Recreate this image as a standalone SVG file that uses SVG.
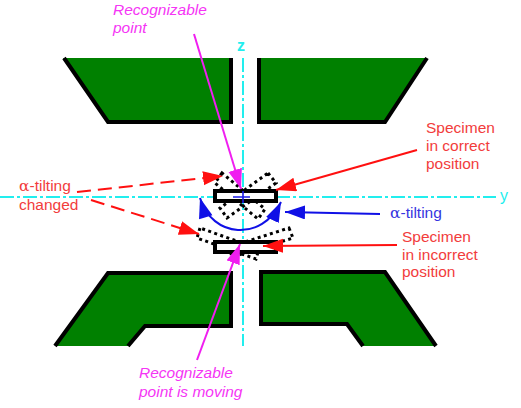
<svg xmlns="http://www.w3.org/2000/svg" width="521" height="408" viewBox="0 0 521 408">
<style>
text{font-family:"Liberation Sans",Arial,sans-serif;font-size:15.5px}
.m{fill:#f535f5;font-style:italic}
.r{fill:#f23c3c}
.b{fill:#3535e0}
.c{fill:#22eeee;font-weight:bold}
.pole{fill:#008000;stroke:none}
.edge{fill:none;stroke:#000;stroke-width:4;stroke-linejoin:miter}
.axis{fill:none;stroke:#22eeee;stroke-width:2;stroke-dasharray:14 3 3 3}
.dot{fill:none;stroke:#000;stroke-width:3;stroke-dasharray:3 3.4}
.spec{fill:#fff;stroke:#000;stroke-width:4}
</style>
<defs>
<marker id="am" markerUnits="userSpaceOnUse" markerWidth="22" markerHeight="16" refX="20" refY="7" orient="auto"><path d="M0 0L20 7L0 14Z" fill="#f01ef0"/></marker>
<marker id="ar" markerUnits="userSpaceOnUse" markerWidth="22" markerHeight="16" refX="20" refY="7" orient="auto"><path d="M0 0L20 7L0 14Z" fill="#ff1010"/></marker>
<marker id="ab" markerUnits="userSpaceOnUse" markerWidth="22" markerHeight="16" refX="20" refY="7" orient="auto"><path d="M0 0L20 7L0 14Z" fill="#1010e6"/></marker>
<marker id="abs" markerUnits="userSpaceOnUse" markerWidth="22" markerHeight="16" refX="0" refY="7" orient="auto"><path d="M20 0L0 7L20 14Z" fill="#1010e6"/></marker>
</defs>
<rect width="521" height="408" fill="#fff"/>
<g id="pole-top-left"><path class="pole" d="M63 58H231V122H108Z"/><path class="edge" d="M64 58L108 122H231V58"/></g>
<g id="pole-top-right"><path class="pole" d="M259 58H427L385 122H259Z"/><path class="edge" d="M427 58L385 122H259V58"/></g>
<g id="pole-bottom-left"><path class="pole" d="M55 346L108 273H231V326H145L128 346Z"/><path class="edge" d="M55 346L108 273H231V326H145L128 346"/></g>
<g id="pole-bottom-right"><path class="pole" d="M261 272H385L436 346H363L347 324H261Z"/><path class="edge" d="M436 346L385 272H261V324H347L363 346"/></g>
<g id="axes">
<path class="axis" d="M243 58V346"/>
<path class="axis" d="M0 197H496"/>
<text class="c" x="237" y="51" style="font-size:16px">z</text>
<text x="500" y="201" style="fill:#22eeee;font-size:16px">y</text>
</g>
<g id="specimen-tilted">
<path class="dot" d="M222 173L215 183L258 219L265 209Z"/>
<path class="dot" d="M268 173L276 183L227 218L220 208Z"/>
<path class="dot" d="M200 228L197 238L256 259L259 249Z"/>
<path class="dot" d="M289 228L293 238L232 257L229 247Z"/>
</g>
<g id="specimen-correct"><rect class="spec" x="215" y="191" width="61" height="10"/><path d="M233 197H250M243 191V203" stroke="#1a1ae6" stroke-width="1.6" fill="none"/></g>
<g id="specimen-incorrect"><rect class="spec" x="215" y="242" width="61" height="10"/></g>
<g id="connectors" fill="none" stroke-width="2">
<path d="M194 34L241 189" stroke="#f01ef0" marker-end="url(#am)"/>
<path d="M197 360L240 244" stroke="#f01ef0" marker-end="url(#am)"/>
<path d="M417 150L276 190" stroke="#ff1010" marker-end="url(#ar)"/>
<path d="M397 245L263 246" stroke="#ff1010" marker-end="url(#ar)"/>
<path d="M77 192L223 176" stroke="#ff1010" stroke-dasharray="14 7" marker-end="url(#ar)"/>
<path d="M91 200L199 234" stroke="#ff1010" stroke-dasharray="14 7" marker-end="url(#ar)"/>
<path d="M380 214L285 212" stroke="#1010e6" marker-end="url(#ab)"/>
<path d="M200 198C212 238 262 242 281 202" stroke="#1010e6" marker-start="url(#abs)" marker-end="url(#ab)"/>
</g>
<g id="labels">
<text class="m" x="113" y="15">Recognizable</text>
<text class="m" x="113" y="33">point</text>
<text class="m" x="139" y="378">Recognizable</text>
<text class="m" x="139" y="397">point is moving</text>
<text class="r" x="19" y="191"><tspan font-family="'DejaVu Serif',serif">α</tspan>-tilting</text>
<text class="r" x="19" y="210">changed</text>
<text class="r" x="426" y="133">Specimen</text>
<text class="r" x="426" y="151">in correct</text>
<text class="r" x="426" y="169">position</text>
<text class="b" x="390" y="218"><tspan font-family="'DejaVu Serif',serif">α</tspan>-tilting</text>
<text class="r" x="402" y="242">Specimen</text>
<text class="r" x="402" y="260">in incorrect</text>
<text class="r" x="402" y="277">position</text>
</g>
</svg>
